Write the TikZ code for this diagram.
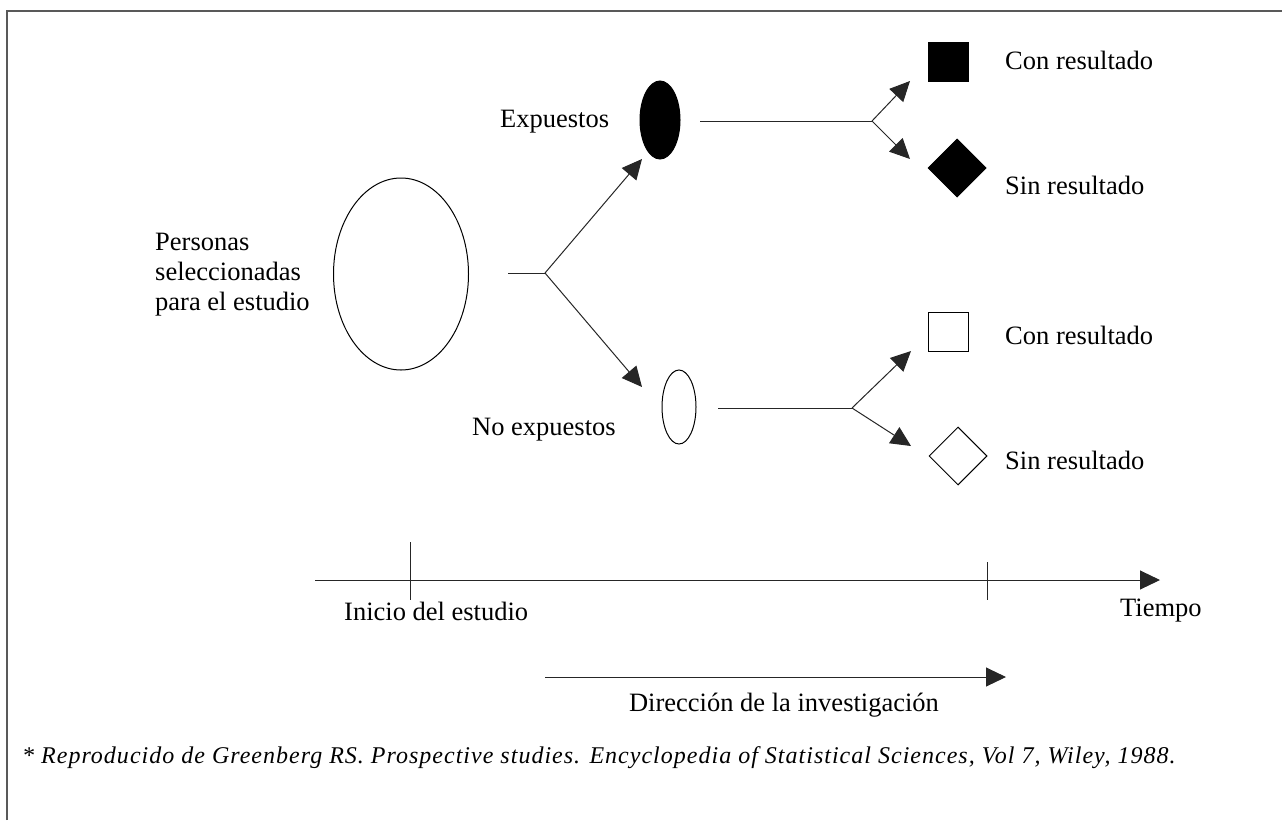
\documentclass[tikz,border=0pt]{standalone}
\usepackage{fontspec}
\setmainfont{Liberation Serif}
\usetikzlibrary{arrows.meta,shapes.geometric}
\begin{document}
\begin{tikzpicture}[x=1pt,y=-1pt,
  lbl/.style={font=\fontsize{26.5}{30}\selectfont, inner sep=0pt, anchor=west},
  conn/.style={line width=1pt, draw=black!85},
  arr/.style={conn, -{Triangle[length=20pt,width=19pt]}},
  ell/.style={ellipse, draw, line width=1pt, inner sep=0pt},
  sq/.style={rectangle, draw, line width=1pt, minimum width=40pt, minimum height=39pt, inner sep=0pt},
  dia/.style={diamond, draw, line width=1pt, minimum width=58pt, minimum height=58pt, inner sep=0pt},
  frame/.style={line width=2pt, draw=black!65}]
\useasboundingbox (0,0) rectangle (1282,820);
\draw[frame] (7,820) -- (7,11) -- (1282,11);

% main population
\node[ell, minimum width=135pt, minimum height=192pt] (pop) at (401,274) {};
\node[lbl, align=left] (poplbl) at (155,275) {Personas\\seleccionadas\\para el estudio};

% exposed / not exposed
\node[ell, fill=black, minimum width=40pt, minimum height=78pt] (exp) at (660,120) {};
\node[ell, minimum width=34pt, minimum height=74pt] (nexp) at (679,407) {};
\node[lbl] (explbl) at (500,122) {Expuestos};
\node[lbl] (nexplbl) at (472,430) {No expuestos};

\coordinate (s0) at (508,273);
\coordinate (b0) at (545,273);
\coordinate (t1) at (642,159);
\coordinate (t2) at (642,387);
\draw[conn] (s0) -- (b0);
\draw[arr] (b0) -- (t1);
\draw[arr] (b0) -- (t2);

% exposed outcomes
\node[sq, fill=black] (eco) at (948,62) {};
\node[dia, fill=black] (esin) at (957,168) {};
\node[lbl] (ecolbl) at (1005,60) {Con resultado};
\node[lbl] (esinlbl) at (1005,185) {Sin resultado};
\coordinate (s1) at (700,121);
\coordinate (b1) at (872,121);
\coordinate (t11) at (910,81);
\coordinate (t12) at (910,159);
\draw[conn] (s1) -- (b1);
\draw[arr] (b1) -- (t11);
\draw[arr] (b1) -- (t12);

% non exposed outcomes
\node[sq] (nco) at (948,332) {};
\node[dia] (nsin) at (958,456) {};
\node[lbl] (ncolbl) at (1005,335) {Con resultado};
\node[lbl] (nsinlbl) at (1005,460) {Sin resultado};
\coordinate (s2) at (718,408);
\coordinate (b2) at (852,408);
\coordinate (t21) at (911,351);
\coordinate (t22) at (911,446);
\draw[conn] (s2) -- (b2);
\draw[arr] (b2) -- (t21);
\draw[arr] (b2) -- (t22);

% time axis
\coordinate (ax0) at (315,580);
\coordinate (ax1) at (1160,580);
\draw[arr] (ax0) -- (ax1);
\coordinate (tk1a) at (410,542);
\coordinate (tk1b) at (410,600);
\coordinate (tk2a) at (987,562);
\coordinate (tk2b) at (987,600);
\draw[conn] (tk1a) -- (tk1b);
\draw[conn] (tk2a) -- (tk2b);
\node[lbl] (inicio) at (344,611) {Inicio del estudio};
\node[lbl] (tiempo) at (1120,611) {Tiempo};

% direction
\coordinate (d0) at (545,677);
\coordinate (d1) at (1006,677);
\draw[arr] (d0) -- (d1);
\node[lbl, anchor=center] (dir) at (784,705) {Dirección de la investigación};

% footnote
\node[lbl, font=\fontsize{24}{28}\itshape\addfontfeature{LetterSpace=4.2}] (foot) at (22,758) {* Reproducido de Greenberg RS. Prospective studies. Encyclopedia of Statistical Sciences, Vol 7, Wiley, 1988.};
\end{tikzpicture}
\end{document}
